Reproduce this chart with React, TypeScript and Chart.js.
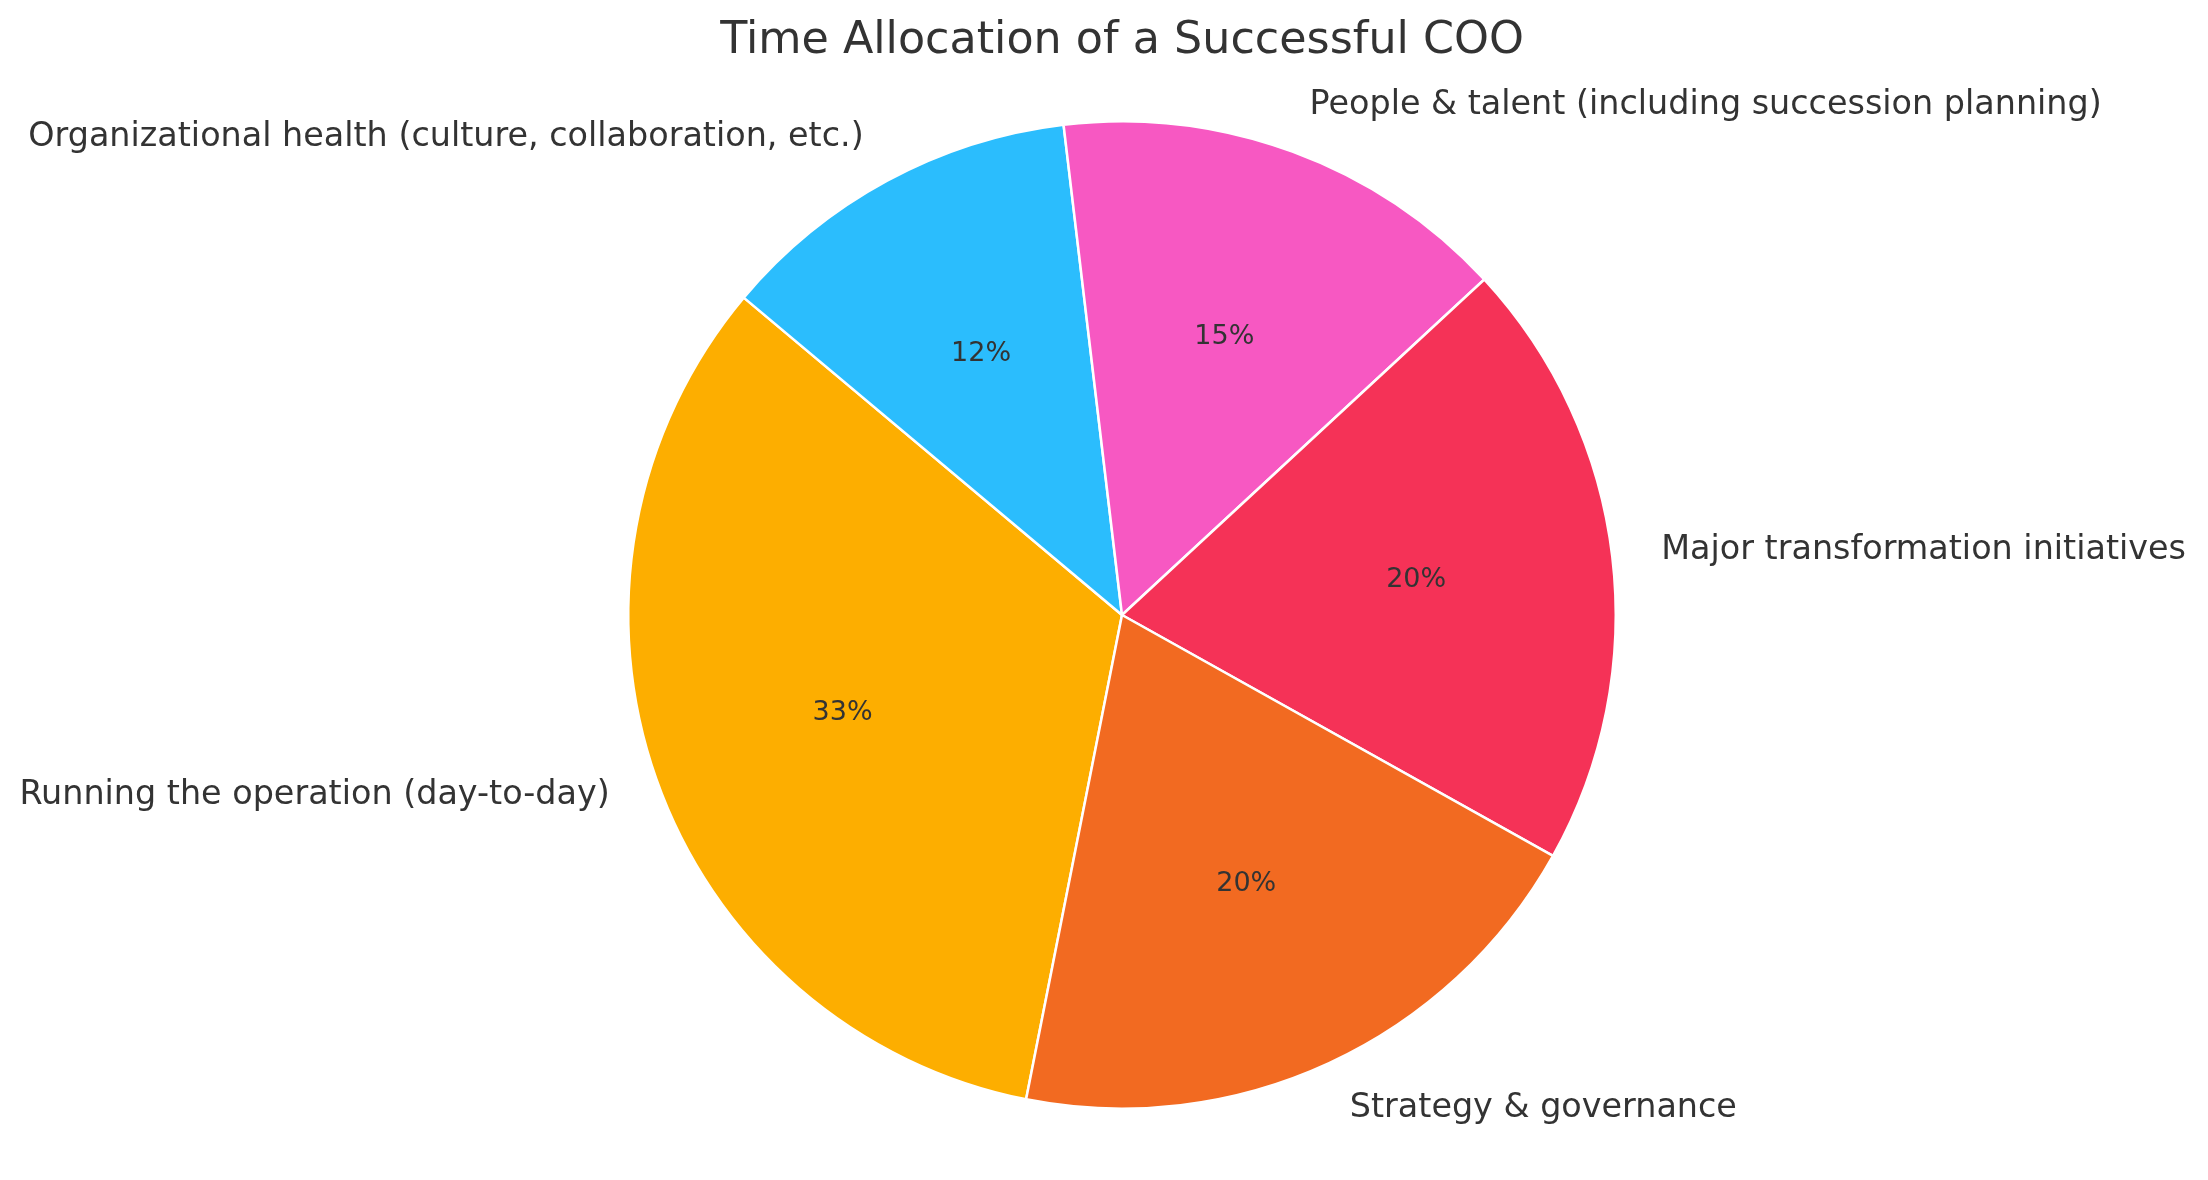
import React, { useEffect, useRef } from "react";
import { Chart, registerables } from "chart.js";

Chart.register(...registerables);

// Data, listed clockwise starting from the "Running the operation" wedge
const categories = [
  "Running the operation (day-to-day)",
  "Organizational health (culture, collaboration, etc.)",
  "People & talent (including succession planning)",
  "Major transformation initiatives",
  "Strategy & governance",
];
const shares = [33, 12, 15, 20, 20];
const sliceColors = ["#FDAE00", "#2BBDFD", "#F758C2", "#F53257", "#F26A21"];
const titleText = "Time Allocation of a Successful COO";

const TEXT_COLOR = "#333333";
const FONT = "'DejaVu Sans', sans-serif";

const outerLabels = {
  id: "outerLabels",
  afterDatasetsDraw(chart: any) {
    const ctx = chart.ctx;
    const meta = chart.getDatasetMeta(0);
    const total = shares.reduce((a, b) => a + b, 0);
    ctx.save();
    meta.data.forEach((arc: any, i: number) => {
      const p = arc.getProps(["startAngle", "endAngle", "outerRadius", "x", "y"], true);
      const mid = (p.startAngle + p.endAngle) / 2;
      const cos = Math.cos(mid);
      const sin = Math.sin(mid);
      // category label at 1.1 r
      const lx = p.x + 1.1 * p.outerRadius * cos;
      const ly = p.y + 1.1 * p.outerRadius * sin;
      ctx.fillStyle = TEXT_COLOR;
      ctx.font = `33.4px ${FONT}`;
      ctx.textAlign = lx >= p.x ? "left" : "right";
      ctx.textBaseline = "middle";
      ctx.fillText(categories[i], lx, ly);
      // percentage at 0.6 r
      const px = p.x + 0.6 * p.outerRadius * cos;
      const py = p.y + 0.6 * p.outerRadius * sin;
      ctx.font = `27px ${FONT}`;
      ctx.textAlign = "center";
      ctx.fillText(`${Math.round((shares[i] / total) * 100)}%`, px, py);
    });
    ctx.restore();
  },
};

export default function App() {
  const ref = useRef<HTMLCanvasElement | null>(null);

  useEffect(() => {
    document.body.style.margin = "0";
    const canvas = ref.current;
    if (!canvas) return;
    const chart = new Chart(canvas, {
      type: "pie",
      data: {
        labels: categories,
        datasets: [
          {
            data: shares,
            backgroundColor: sliceColors,
            borderColor: "#ffffff",
            borderWidth: 2.5,
          },
        ],
      },
      options: {
        responsive: false,
        animation: false,
        devicePixelRatio: 1,
        rotation: -168.8,
        layout: {
          padding: { left: 627, right: 591, top: 0, bottom: 70 },
        },
        plugins: {
          legend: { display: false },
          tooltip: { enabled: false },
          title: {
            display: true,
            text: titleText,
            color: TEXT_COLOR,
            font: { family: FONT, size: 44.4, weight: "normal", lineHeight: 1.2 },
            padding: { top: 15, bottom: 51.7 },
          },
        },
      },
      plugins: [outerLabels],
    });
    return () => chart.destroy();
  }, []);

  return (
    <div style={{ position: "absolute", left: 0, top: 0, width: 2208, height: 1180, background: "#ffffff" }}>
      <canvas ref={ref} width={2208} height={1180} style={{ width: 2208, height: 1180, display: "block" }} />
    </div>
  );
}
